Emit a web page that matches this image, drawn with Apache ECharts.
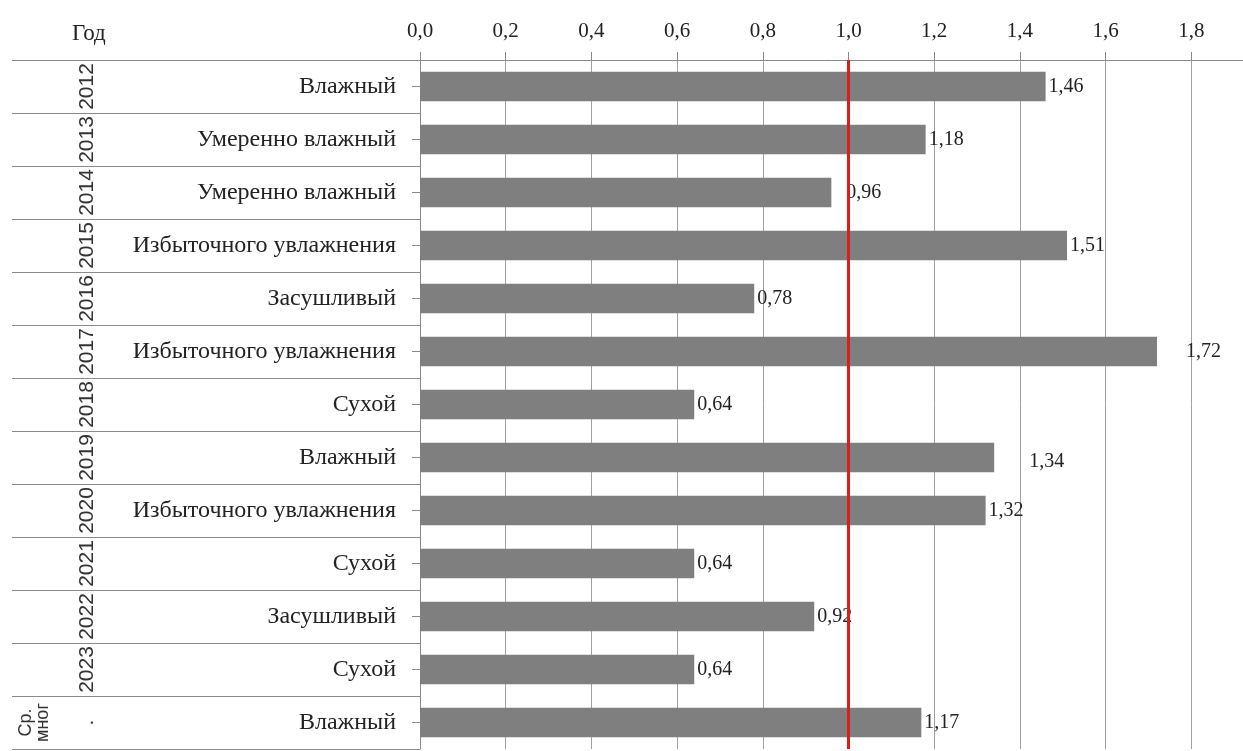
<!DOCTYPE html>
<html>
<head>
<meta charset="utf-8">
<script src="https://cdn.jsdelivr.net/npm/echarts@6/dist/echarts.min.js"></script>
<style>
  html, body { margin: 0; padding: 0; background: #ffffff; }
  #chart { width: 1243px; height: 751px; }
</style>
</head>
<body>
<div id="chart"></div>
<script>
// Moisture class of each year and its index value
const categories = [
  'Влажный', 'Умеренно влажный', 'Умеренно влажный', 'Избыточного увлажнения',
  'Засушливый', 'Избыточного увлажнения', 'Сухой', 'Влажный',
  'Избыточного увлажнения', 'Сухой', 'Засушливый', 'Сухой', 'Влажный'
];
const years = [
  '2012', '2013', '2014', '2015', '2016', '2017', '2018',
  '2019', '2020', '2021', '2022', '2023', 'Ср.\nмног\n.'
];
const values = [1.46, 1.18, 0.96, 1.51, 0.78, 1.72, 0.64, 1.34, 1.32, 0.64, 0.92, 0.64, 1.17];
const referenceLevel = 1.0;
const axisTitle = 'Год';

// Extra nudges for a few value labels (dx, dy), keyed by row
const labelShift = { 2: [12, 0], 5: [26, 0], 7: [32, 4] };

const serif = '"Liberation Serif", "Times New Roman", serif';
const sans = '"Liberation Sans", Arial, sans-serif';
const comma = v => String(v).replace('.', ',');

const barData = values.map((v, i) => {
  const item = { value: v };
  if (labelShift[i]) item.label = { offset: labelShift[i] };
  return item;
});

const chart = echarts.init(document.getElementById('chart'), null, { renderer: 'canvas' });

chart.setOption({
  animation: false,
  backgroundColor: '#ffffff',
  title: {
    text: axisTitle,
    left: 67, top: 17,
    textStyle: { fontFamily: serif, fontSize: 23, fontWeight: 'normal', color: '#222' }
  },
  // the 0–2 scale runs past the right edge of the page; only up to 1,8 is visible
  grid: {
    left: 420, width: 857, top: 60, bottom: 2,
    containLabel: false, outerBoundsMode: 'none'
  },
  xAxis: {
    type: 'value',
    position: 'top',
    min: 0, max: 2, interval: 0.2,
    axisLine: { show: true, lineStyle: { color: '#8a8a8a', width: 1 } },
    axisTick: { show: true, length: 8, lineStyle: { color: '#8a8a8a' } },
    splitLine: { show: true, lineStyle: { color: '#a0a0a0', width: 1 } },
    axisLabel: {
      margin: 18,
      fontFamily: serif, fontSize: 21, color: '#222',
      formatter: v => v > 1.9 ? '' : comma(v.toFixed(1))
    }
  },
  yAxis: [
    {
      type: 'category',
      data: categories,
      inverse: true,
      axisLine: { show: true, lineStyle: { color: '#8a8a8a', width: 1 } },
      axisTick: { show: true, alignWithLabel: true, length: 8, lineStyle: { color: '#8a8a8a' } },
      axisLabel: { margin: 24, fontFamily: serif, fontSize: 24, color: '#222' }
    },
    {
      type: 'category',
      data: years,
      inverse: true,
      position: 'left',
      axisLine: { show: false },
      axisTick: { show: true, length: 408, lineStyle: { color: '#8a8a8a', width: 1 } },
      axisLabel: {
        rotate: 90,
        margin: 322,
        interval: 0,
        formatter: v => {
          if (v.indexOf('\n') < 0) return '{y|' + v + '}';
          const parts = v.split('\n');
          return '{s|' + parts[0] + '}\n{s|' + parts[1] + '}\n{g| }\n{y|' + parts[2] + '}';
        },
        rich: {
          y: { fontFamily: sans, fontSize: 21, lineHeight: 21, color: '#333' },
          s: { fontFamily: sans, fontSize: 18, lineHeight: 17, color: '#333' },
          g: { fontSize: 10, lineHeight: 25 }
        }
      }
    }
  ],
  series: [
    {
      type: 'bar',
      yAxisIndex: 0,
      data: barData,
      barWidth: '56%',
      itemStyle: { color: '#7f7f7f' },
      label: {
        show: true,
        position: 'right',
        distance: 3,
        fontFamily: serif, fontSize: 20, color: '#222',
        formatter: p => comma(p.value)
      },
      markLine: {
        silent: true,
        symbol: 'none',
        label: { show: false },
        lineStyle: { color: '#d81e1e', width: 3, type: 'solid' },
        data: [{ xAxis: referenceLevel }]
      }
    }
  ]
});
</script>
</body>
</html>
